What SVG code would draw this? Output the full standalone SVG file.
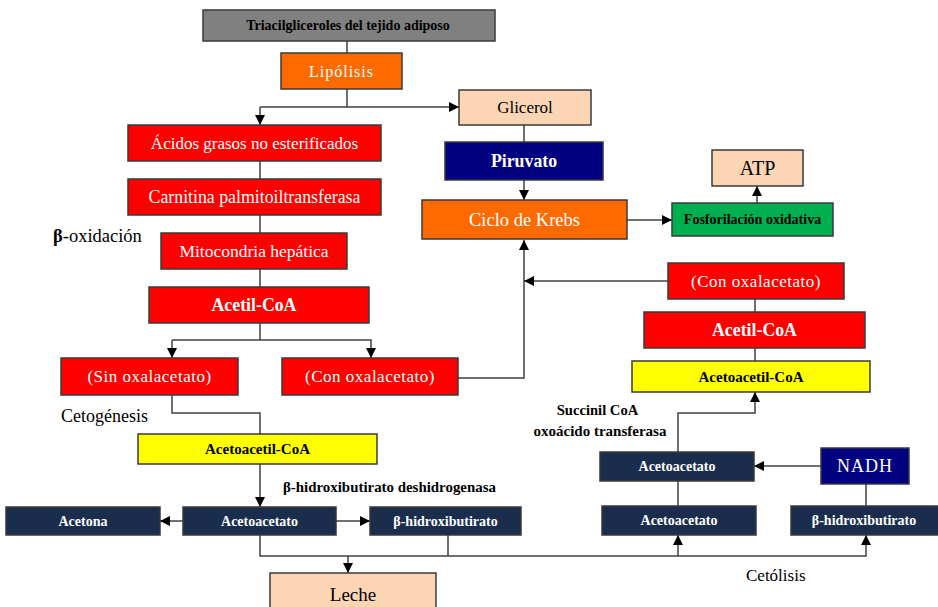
<svg xmlns="http://www.w3.org/2000/svg" width="938" height="607" viewBox="0 0 938 607">
<defs>
<marker id="a" viewBox="0 0 10 10" refX="10" refY="5" markerWidth="10" markerHeight="10" markerUnits="userSpaceOnUse" orient="auto"><path d="M0,0 L10,5 L0,10 z" fill="#000"/></marker>
<style>
.b rect{stroke:#3a3a3a;stroke-width:1.5}
.red rect{fill:#ff0000}
.org rect{fill:#ff6a00}
.pch rect{fill:#fcd5b4}
.nav rect{fill:#1a2d4d}
.blu rect{fill:#000080}
.yel rect{fill:#ffff00}
text{font-family:"Liberation Serif","Times New Roman",serif;text-anchor:middle;dominant-baseline:central}
.w{fill:#fff}
.k{fill:#000}
.bd{font-weight:bold}
.lbl{text-anchor:start;fill:#000}
#conn path{fill:none;stroke:#404040;stroke-width:1.5}
#conn path.ar{marker-end:url(#a)}
</style>
</defs>
<rect width="938" height="607" fill="#fff"/>
<g id="conn">
<path d="M347,41 V53"/>
<path d="M347,89 V107"/>
<path class="ar" d="M260,107 H459"/>
<path class="ar" d="M260,107 V125"/>
<path d="M260,161 V179"/>
<path d="M260,215 V233"/>
<path d="M260,269 V287"/>
<path d="M260,323 V340"/>
<path class="ar" d="M172,340 H371 V358"/>
<path class="ar" d="M172,340 V358"/>
<path class="ar" d="M458,378 H524 V240"/>
<path d="M524,125 V142"/>
<path class="ar" d="M524,180 V200"/>
<path class="ar" d="M627,220 H672"/>
<path class="ar" d="M757,203 V186"/>
<path class="ar" d="M668,281 H524"/>
<path d="M755,299 V312"/>
<path d="M755,348 V361"/>
<path d="M678,506 V481"/>
<path class="ar" d="M678,452 V413 H755 V392"/>
<path class="ar" d="M821,466 H754"/>
<path d="M866,484 V506"/>
<path d="M172,395 V413 H260 V434"/>
<path class="ar" d="M260,464 V507"/>
<path class="ar" d="M183,521 H160"/>
<path class="ar" d="M336,521 H370"/>
<path class="ar" d="M260,535 V556 H866 V535"/>
<path d="M448,535 V556"/>
<path class="ar" d="M348,556 V573"/>
<path class="ar" d="M678,556 V535"/>
</g>
<g id="triacil" class="b"><rect x="203" y="10" width="292" height="31" fill="#808080"/><text x="348" y="25.5" class="k bd" font-size="14">Triacilgliceroles del tejido adiposo</text></g>
<g id="lipolisis" class="b org"><rect x="281" y="53" width="121" height="36"/><text x="341.5" y="71" class="w" font-size="16" letter-spacing="1">Lipólisis</text></g>
<g id="glicerol" class="b pch"><rect x="459" y="90" width="132" height="35"/><text x="525" y="107.5" class="k" font-size="17">Glicerol</text></g>
<g id="acidos" class="b red"><rect x="128" y="125" width="253" height="36"/><text x="254.5" y="143" class="w" font-size="17">Ácidos grasos no esterificados</text></g>
<g id="carnitina" class="b red"><rect x="128" y="179" width="253" height="36"/><text x="254.5" y="197" class="w" font-size="17.8">Carnitina palmitoiltransferasa</text></g>
<g id="mitocondria" class="b red"><rect x="161" y="233" width="186" height="36"/><text x="254" y="251" class="w" font-size="17.5">Mitocondria hepática</text></g>
<g id="acetilcoa" class="b red"><rect x="149" y="287" width="220" height="36"/><text x="254" y="305" class="w bd" font-size="17.8">Acetil-CoA</text></g>
<g id="sinoxal" class="b red"><rect x="61" y="358" width="177" height="37"/><text x="149.5" y="376.5" class="w" font-size="17" letter-spacing="0.5">(Sin oxalacetato)</text></g>
<g id="conoxal" class="b red"><rect x="282" y="358" width="176" height="37"/><text x="370" y="376.5" class="w" font-size="17" letter-spacing="0.5">(Con oxalacetato)</text></g>
<g id="acetoacetilcoa" class="b yel"><rect x="138" y="434" width="239" height="30"/><text x="257.5" y="449" class="k bd" font-size="15">Acetoacetil-CoA</text></g>
<g id="acetona" class="b nav"><rect x="6" y="507" width="154" height="28"/><text x="83" y="521" class="w bd" font-size="14">Acetona</text></g>
<g id="acetoacetato" class="b nav"><rect x="183" y="507" width="153" height="28"/><text x="259.5" y="521" class="w bd" font-size="14">Acetoacetato</text></g>
<g id="bhidroxi" class="b nav"><rect x="370" y="507" width="151" height="28"/><text x="445.5" y="521" class="w bd" font-size="14">β-hidroxibutirato</text></g>
<g id="leche" class="b pch"><rect x="270" y="573" width="166" height="40"/><text x="353" y="594" class="k" font-size="19">Leche</text></g>
<g id="piruvato" class="b blu"><rect x="445" y="142" width="158" height="38"/><text x="524" y="161" class="w bd" font-size="17.8">Piruvato</text></g>
<g id="krebs" class="b org"><rect x="422" y="200" width="205" height="39"/><text x="524.5" y="219.5" class="w" font-size="18.5">Ciclo de Krebs</text></g>
<g id="fosforilacion" class="b"><rect x="672" y="203" width="161" height="33" fill="#00b050"/><text x="752.5" y="219.5" class="k bd" font-size="14">Fosforilación oxidativa</text></g>
<g id="atp" class="b pch"><rect x="712" y="150" width="91" height="36"/><text x="757.5" y="168" class="k" font-size="20">ATP</text></g>
<g id="conoxal2" class="b red"><rect x="668" y="263" width="176" height="36"/><text x="756" y="281" class="w" font-size="17" letter-spacing="0.5">(Con oxalacetato)</text></g>
<g id="acetilcoa2" class="b red"><rect x="644" y="312" width="221" height="36"/><text x="754.5" y="330" class="w bd" font-size="17.8">Acetil-CoA</text></g>
<g id="acetoacetilcoa2" class="b yel"><rect x="632" y="361" width="238" height="31"/><text x="751" y="376.5" class="k bd" font-size="15">Acetoacetil-CoA</text></g>
<g id="acetoacetato2" class="b nav"><rect x="600" y="452" width="154" height="29"/><text x="677" y="466.5" class="w bd" font-size="14">Acetoacetato</text></g>
<g id="nadh" class="b blu"><rect x="821" y="448" width="88" height="36"/><text x="865" y="466" class="w" font-size="18" letter-spacing="1">NADH</text></g>
<g id="acetoacetato3" class="b nav"><rect x="602" y="506" width="154" height="29"/><text x="679" y="520.5" class="w bd" font-size="14">Acetoacetato</text></g>
<g id="bhidroxi2" class="b nav"><rect x="791" y="506" width="150" height="29"/><text x="864" y="520.5" class="w bd" font-size="14">β-hidroxibutirato</text></g>
<g id="labels">
<text x="53" y="236" class="lbl" font-size="18.5"><tspan font-weight="bold">β</tspan>-oxidación</text>
<text x="61" y="416" class="lbl" font-size="18">Cetogénesis</text>
<text x="283" y="487" class="lbl bd" font-size="14.9">β-hidroxibutirato deshidrogenasa</text>
<text x="597.5" y="410" class="k bd" font-size="14.6">Succinil CoA</text>
<text x="600" y="431" class="k bd" font-size="15">oxoácido transferasa</text>
<text x="746" y="575" class="lbl" font-size="17">Cetólisis</text>
</g>
</svg>
